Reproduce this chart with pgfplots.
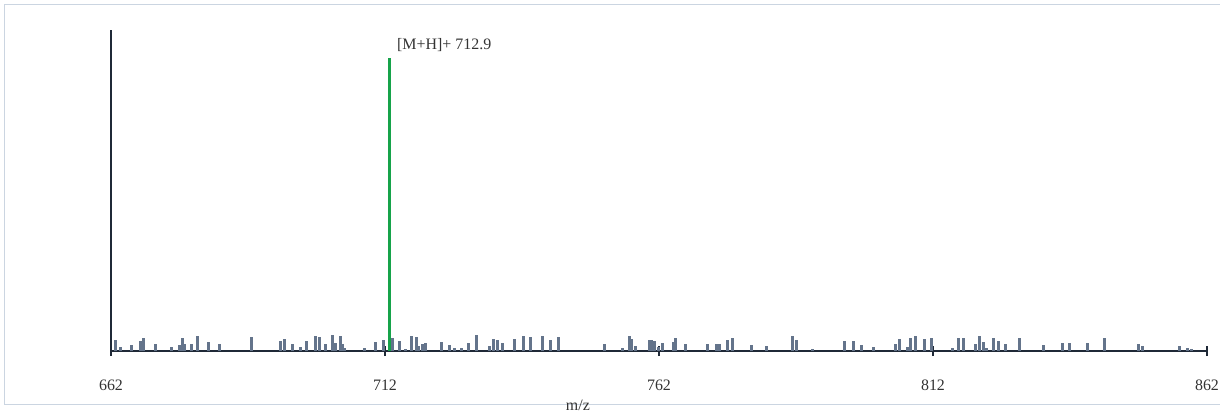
\documentclass[border=0pt]{standalone}
\usepackage{pgfplots}
\pgfplotsset{compat=1.18}
\usepackage{fontspec}
\setmainfont{Liberation Serif}
\definecolor{axcol}{HTML}{1F2937}
\definecolor{barcol}{HTML}{64748B}
\definecolor{peakcol}{HTML}{16A34A}
\definecolor{framecol}{HTML}{CBD5E1}
\definecolor{txtcol}{HTML}{333333}
\begin{document}
\begin{tikzpicture}
\useasboundingbox (-111bp,-63bp) rectangle (1109bp,351bp);
\draw[framecol, line width=1bp] (-106bp,-53bp) rectangle (1130bp,346.5bp);
\begin{axis}[
  scale only axis, width=1096bp, height=321bp,
  xmin=662, xmax=862, ymin=0, ymax=109.6,
  axis x line=bottom, axis y line=left,
  axis line style={-, axcol, line width=1.5bp},
  ytick=\empty,
  xtick={662,712,762,812,862},
  tick align=center, major tick length=10bp,
  tick style={axcol, line width=1.5bp},
  xticklabel style={font=\fontsize{16}{19}\selectfont, text=txtcol, yshift=-20bp},
  /pgf/number format/assume math mode=true,
  xlabel={m/z},
  xlabel style={at={(axis description cs:0.426,0)}, anchor=center, yshift=-54bp, font=\fontsize{16}{19}\selectfont, text=txtcol},
  clip=false,
]
\addplot[ycomb, barcol, line width=3bp, mark=none] coordinates {
(662.86,3.75) (663.77,1.37) (665.70,2.05) (667.47,3.41) (667.97,4.44)
(670.08,2.39) (673.13,1.37) (674.59,2.05) (675.01,4.44) (675.45,2.39)
(676.78,2.39) (677.82,5.12) (679.76,3.07) (681.71,2.39) (687.55,4.78)
(693.02,3.41) (693.75,4.10) (695.08,2.39) (696.67,1.37) (697.64,3.41)
(699.23,5.12) (700.01,4.78) (701.11,2.39) (702.33,5.46) (702.93,2.73)
(703.92,5.12) (704.28,2.39) (704.70,1.02) (708.17,1.02) (710.18,3.07)
(711.69,3.75) (713.41,4.44) (714.61,3.41) (715.70,0.68) (716.80,5.12)
(717.71,4.78) (718.20,1.71) (718.81,2.39) (719.30,2.73) (722.27,3.07)
(723.73,2.05) (724.77,1.02) (725.87,1.02) (727.15,2.73) (728.66,5.46)
(731.03,1.71) (731.71,4.10) (732.57,3.75) (733.41,2.73) (735.59,4.10)
(737.24,5.12) (738.51,4.78) (740.70,5.12) (742.16,3.75) (743.62,4.78)
(752.02,2.39) (755.31,1.02) (756.58,5.12) (756.95,4.10) (757.75,1.71)
(760.18,3.75) (760.72,3.75) (761.22,3.41) (761.82,1.37) (762.67,2.73)
(764.61,3.07) (765.10,4.44) (766.87,2.39) (770.89,2.39) (772.53,2.39)
(773.08,2.39) (774.54,3.75) (775.45,4.44) (778.97,2.05) (781.65,1.71)
(786.40,5.12) (787.00,3.75) (790.10,0.68) (795.89,3.41) (797.46,3.41)
(798.91,2.05) (801.10,1.37) (805.12,2.39) (805.97,4.10) (807.26,1.37)
(807.93,4.44) (808.77,5.12) (810.36,4.10) (811.69,4.44) (815.59,1.02)
(816.69,4.44) (817.53,4.44) (819.84,2.39) (820.45,5.12) (821.18,3.07)
(821.80,1.02) (823.13,4.44) (823.92,3.41) (825.19,2.39) (827.75,4.44)
(832.13,2.05) (835.67,2.73) (836.95,2.73) (840.16,2.73) (843.33,4.44)
(849.54,2.39) (850.14,1.71) (857.07,1.71) (858.48,1.02) (859.08,0.68)
};
\addplot[ycomb, peakcol, line width=3bp, mark=none] coordinates {(712.9,100)};
\node[anchor=west, inner sep=0pt, xshift=7bp, yshift=13bp, font=\fontsize{16}{19}\selectfont, text=txtcol] at (axis cs:712.9,100) {[M+H]+ 712.9};
\end{axis}
\end{tikzpicture}
\end{document}
